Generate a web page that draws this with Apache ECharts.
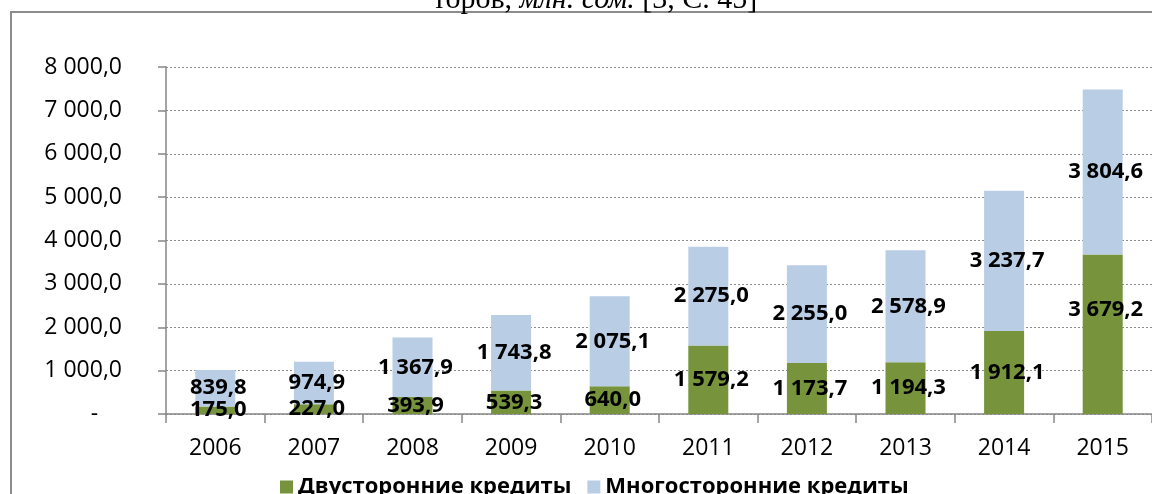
<!DOCTYPE html>
<html>
<head>
<meta charset="utf-8">
<script src="https://cdn.jsdelivr.net/npm/echarts@6/dist/echarts.min.js"></script>
<style>
    html, body { margin: 0; padding: 0; background: #fff; }
    #chart { width: 1152px; height: 494px; }
</style>
</head>
<body>
<div id="chart"></div>
<script>
const years = ['2006', '2007', '2008', '2009', '2010', '2011', '2012', '2013', '2014', '2015'];
const bilateral = [175.0, 227.0, 393.9, 539.3, 640.0, 1579.2, 1173.7, 1194.3, 1912.1, 3679.2];
const multilateral = [839.8, 974.9, 1367.9, 1743.8, 2075.1, 2275.0, 2255.0, 2578.9, 3237.7, 3804.6];
const seriesNames = ['Двусторонние кредиты', 'Многосторонние кредиты'];

function fmt (v) {
    let s = v.toFixed(1).split('.');
    let int = s[0].replace(/\B(?=(\d{3})+(?!\d))/g, ' ');
    return int + ',' + s[1];
}

let chart = echarts.init(document.getElementById('chart'));

const labelStyle = {
    show: true,
    position: 'inside',
    offset: [3, 0],
    color: '#000',
    fontFamily: 'Open Sans',
    fontWeight: 'bold',
    fontSize: 22,
    formatter: p => fmt(p.value)
};

const option = {
    animation: false,
    backgroundColor: '#fff',
    graphic: [
        {
            type: 'rect',
            shape: { x: 11, y: 12, width: 1300, height: 700 },
            style: { fill: 'none', stroke: '#8c8c8c', lineWidth: 2 }
        },
        {
            type: 'text',
            x: 595,
            y: 0,
            style: {
                text: '{a|торов, }{b|млн. сом.}{a| [3, С. 45]}',
                align: 'center',
                verticalAlign: 'middle',
                textAlign: 'center',
                textVerticalAlign: 'middle',
                rich: {
                    a: { fontFamily: 'Liberation Serif', fontSize: 30, fill: '#000', color: '#000' },
                    b: { fontFamily: 'Liberation Serif', fontStyle: 'italic', fontSize: 30, fill: '#000', color: '#000' }
                }
            }
        }
    ],
    legend: {
        left: 275,
        top: 471,
        itemWidth: 13,
        itemHeight: 13,
        itemGap: 16,
        icon: 'rect',
        textStyle: {
            fontFamily: 'Open Sans',
            fontWeight: 'bold',
            fontSize: 22,
            color: '#000'
        },
        data: seriesNames
    },
    grid: {
        left: 166,
        top: 67,
        width: 993,
        height: 347
    },
    xAxis: {
        type: 'category',
        data: years,
        axisLine: { lineStyle: { color: '#868686', width: 1.5 } },
        axisTick: { show: true, length: 9, lineStyle: { color: '#868686', width: 1.5 } },
        axisLabel: {
            margin: 23,
            color: '#000',
            fontFamily: 'Open Sans',
            fontSize: 23
        }
    },
    yAxis: {
        type: 'value',
        min: 0,
        max: 8000,
        interval: 1000,
        axisLine: { show: true, lineStyle: { color: '#868686', width: 1.5 } },
        axisTick: { show: true, length: 8, lineStyle: { color: '#868686', width: 1.5 } },
        splitLine: { lineStyle: { color: '#8c8c8c', type: [2, 2], width: 1 } },
        axisLabel: {
            margin: 44,
            color: '#000',
            fontFamily: 'Open Sans',
            fontSize: 23,
            formatter: v => v === 0 ? '-    ' : fmt(v)
        }
    },
    series: [
        {
            name: seriesNames[0],
            type: 'bar',
            stack: 'total',
            barWidth: 40,
            itemStyle: { color: '#77933C' },
            label: labelStyle,
            data: bilateral.map((v, i) => i === bilateral.length - 1
                ? { value: v, label: { offset: [3, -24] } }
                : v)
        },
        {
            name: seriesNames[1],
            type: 'bar',
            stack: 'total',
            barWidth: 40,
            itemStyle: { color: '#B9CDE5' },
            label: labelStyle,
            data: multilateral
        }
    ]
};

chart.setOption(option);
</script>
</body>
</html>
